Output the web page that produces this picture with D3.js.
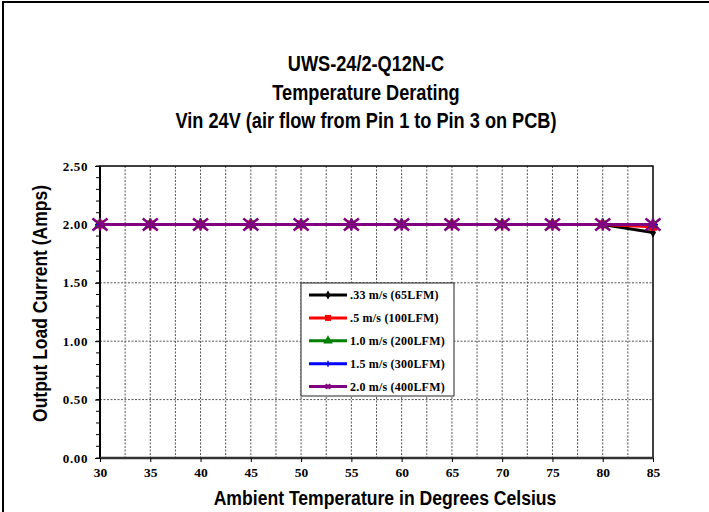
<!DOCTYPE html>
<html><head><meta charset="utf-8">
<script src="https://cdn.jsdelivr.net/npm/d3@7/dist/d3.min.js"></script>
<style>body{margin:0;background:#fff}svg{display:block}</style>
</head><body>
<script>
const titleLines = ["UWS-24/2-Q12N-C", "Temperature Derating", "Vin 24V (air flow from Pin 1 to Pin 3 on PCB)"];
const temps = [30, 35, 40, 45, 50, 55, 60, 65, 70, 75, 80, 85];
const s033 = [2, 2, 2, 2, 2, 2, 2, 2, 2, 2, 2, 1.93];
const s05  = [2, 2, 2, 2, 2, 2, 2, 2, 2, 2, 2, 1.98];
const s10  = [2, 2, 2, 2, 2, 2, 2, 2, 2, 2, 2, 2];
const s15  = [2, 2, 2, 2, 2, 2, 2, 2, 2, 2, 2, 2];
const s20  = [2, 2, 2, 2, 2, 2, 2, 2, 2, 2, 2, 2];
const seriesNames = [".33 m/s (65LFM)", ".5 m/s (100LFM)", "1.0 m/s (200LFM)", "1.5 m/s (300LFM)", "2.0 m/s (400LFM)"];
const seriesColors = ["#000000", "#ff0000", "#008000", "#0000ff", "#800080"];
const seriesMarkers = ["diamond", "square", "triangle", "plus", "star"];
const yTicks = [0, 0.5, 1.0, 1.5, 2.0, 2.5];
const xTicks = [30, 35, 40, 45, 50, 55, 60, 65, 70, 75, 80, 85];
const xAxisLabel = "Ambient Temperature in Degrees Celsius";
const yAxisLabel = "Output Load Current (Amps)";

const series = [s033, s05, s10, s15, s20];
const W = 709, H = 512;
const plot = {left: 100, right: 653, top: 166, bottom: 458};
const svg = d3.select("body").append("svg").attr("width", W).attr("height", H);
const sans = "'Liberation Sans',Arial,sans-serif";
const serif = "'Liberation Serif','Times New Roman',serif";

// outer frame
svg.append("rect").attr("x", 3).attr("y", 2).attr("width", W + 10).attr("height", H + 10)
  .attr("fill", "none").attr("stroke", "#000").attr("stroke-width", 2);

// condensed bold text helper
function condText(parent, str, cx, cy, size, kx, rot) {
  const g = parent.append("g").attr("transform", `translate(${cx},${cy})${rot ? ` rotate(${rot})` : ""} scale(${kx},1)`);
  g.append("text").attr("x", 0).attr("y", 0).attr("text-anchor", "middle")
    .attr("font-family", sans).attr("font-weight", "bold").attr("font-size", size).text(str);
  return g;
}

// title
const tg = svg.append("g");
titleLines.forEach((t, i) => condText(tg, t, 366, 71 + i * 28.5, 21.5, 0.845));

const x = d3.scaleLinear().domain([30, 85]).range([plot.left, plot.right]);
const y = d3.scaleLinear().domain([0, 2.5]).range([plot.bottom, plot.top]);

// gridlines
const vGrid = d3.range(32.5, 85, 2.5);
svg.append("g").selectAll("line").data(vGrid).join("line")
  .attr("x1", d => x(d)).attr("x2", d => x(d)).attr("y1", plot.top).attr("y2", plot.bottom)
  .attr("stroke", "#555").attr("stroke-width", 1).attr("stroke-dasharray", "2,1.5");
svg.append("g").selectAll("line").data([0.5, 1.0, 1.5, 2.0]).join("line")
  .attr("x1", plot.left).attr("x2", plot.right).attr("y1", d => y(d)).attr("y2", d => y(d))
  .attr("stroke", "#555").attr("stroke-width", 1).attr("stroke-dasharray", "2,1.5");

// plot box
svg.append("rect").attr("x", plot.left).attr("y", plot.top)
  .attr("width", plot.right - plot.left).attr("height", plot.bottom - plot.top)
  .attr("fill", "none").attr("stroke", "#000").attr("stroke-width", 1.5);
svg.append("line").attr("x1", plot.left).attr("x2", plot.left).attr("y1", plot.top).attr("y2", plot.bottom)
  .attr("stroke", "#000").attr("stroke-width", 2);
svg.append("line").attr("x1", plot.left).attr("x2", plot.right).attr("y1", plot.bottom).attr("y2", plot.bottom)
  .attr("stroke", "#333").attr("stroke-width", 2.5);

// axes
const yAxis = d3.axisLeft(y).tickValues(yTicks).tickFormat(d3.format(".2f")).tickSize(5).tickPadding(7);
const yg = svg.append("g").attr("transform", `translate(${plot.left},0)`).call(yAxis);
yg.select(".domain").remove();
yg.selectAll("text").attr("font-family", serif).attr("font-weight", "bold").attr("font-size", 13)
  .attr("letter-spacing", 0.6);
svg.append("g").selectAll("line").data(d3.range(0, 2.51, 0.1)).join("line")
  .attr("x1", plot.left - 4).attr("x2", plot.left).attr("y1", d => y(d)).attr("y2", d => y(d))
  .attr("stroke", "#000");

const xAxis = d3.axisBottom(x).tickValues(xTicks).tickSize(4).tickPadding(5);
const xg = svg.append("g").attr("transform", `translate(0,${plot.bottom})`).call(xAxis);
xg.select(".domain").remove();
xg.selectAll("text").attr("font-family", serif).attr("font-weight", "bold").attr("font-size", 13.5);

// axis labels
condText(svg, xAxisLabel, 385, 505, 21, 0.838);
condText(svg, yAxisLabel, 47, 303.5, 21, 0.833, -90);

function drawMarker(g, type, color, cx, cy, s) {
  if (type === "diamond") {
    g.append("path").attr("d", d3.symbol(d3.symbolDiamond, s * 6)()).attr("transform", `translate(${cx},${cy})`).attr("fill", color);
  } else if (type === "square") {
    g.append("rect").attr("x", cx - s / 2).attr("y", cy - s / 2).attr("width", s).attr("height", s).attr("fill", color);
  } else if (type === "triangle") {
    g.append("path").attr("d", d3.symbol(d3.symbolTriangle, s * 8)()).attr("transform", `translate(${cx},${cy})`).attr("fill", color);
  } else if (type === "plus") {
    g.append("path").attr("d", `M${cx - s / 2},${cy}H${cx + s / 2}M${cx},${cy - s / 2}V${cy + s / 2}`).attr("stroke", color).attr("stroke-width", 1.5);
  } else if (type === "star") {
    const rx = s / 2, ry = s * 0.4;
    g.append("path").attr("d", `M${cx - rx},${cy - ry}L${cx + rx},${cy + ry}M${cx - rx},${cy + ry}L${cx + rx},${cy - ry}M${cx},${cy - ry}V${cy + ry}`)
      .attr("stroke", color).attr("stroke-width", 2.5);
  }
}

// series
const line = d3.line().x((d, i) => x(temps[i])).y(d => y(d));
series.forEach((vals, k) => {
  const g = svg.append("g");
  g.append("path").datum(vals).attr("d", line).attr("fill", "none")
    .attr("stroke", seriesColors[k]).attr("stroke-width", 3);
  const size = [5, 8, 8, 10, 15][k];
  vals.forEach((v, i) => drawMarker(g, seriesMarkers[k], seriesColors[k], x(temps[i]), y(v), size));
});

// legend
const lg = svg.append("g");
lg.append("rect").attr("x", 301).attr("y", 283).attr("width", 153).attr("height", 113)
  .attr("fill", "#fff").attr("stroke", "#222").attr("stroke-width", 1);
seriesNames.forEach((name, k) => {
  const ly = 295 + k * 22.9;
  lg.append("line").attr("x1", 309).attr("x2", 347).attr("y1", ly).attr("y2", ly)
    .attr("stroke", seriesColors[k]).attr("stroke-width", 3);
  const ms = [4, 6, 5, 6, 5][k];
  drawMarker(lg, seriesMarkers[k], seriesColors[k], 328, ly, ms);
  lg.append("text").attr("x", 350).attr("y", ly + 4).attr("font-family", serif).attr("font-weight", "bold")
    .attr("font-size", 12).attr("letter-spacing", 0.2).text(name);
});
</script>
</body></html>
